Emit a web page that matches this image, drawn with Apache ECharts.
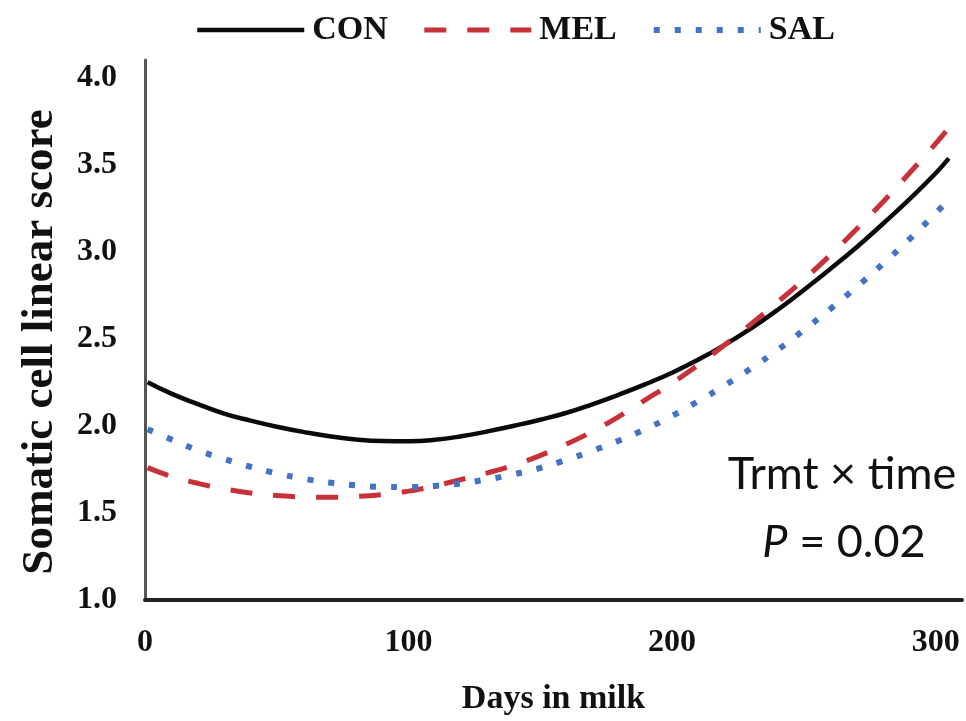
<!DOCTYPE html>
<html>
<head>
<meta charset="utf-8">
<style>
  html, body { margin: 0; padding: 0; background: #fff; }
  #chart { width: 966px; height: 721px; }
</style>
<script src="https://cdn.jsdelivr.net/npm/echarts@6/dist/echarts.min.js"></script>
</head>
<body>
<div id="chart"></div>
<script>
// Days in milk at which each fitted curve is sampled
const DAYS = [1, 10, 20, 30, 40, 50, 60, 70, 80, 90, 100, 110, 120, 130, 140, 150,
              160, 170, 180, 190, 200, 210, 220, 230, 240, 250, 260, 270, 280, 290, 300, 305];

// Somatic cell linear score per treatment
const CON = [2.25, 2.185, 2.125, 2.07, 2.03, 1.995, 1.965, 1.94, 1.922, 1.913, 1.912, 1.92, 1.94, 1.968, 2.0, 2.035,
             2.075, 2.125, 2.18, 2.24, 2.305, 2.38, 2.465, 2.56, 2.665, 2.78, 2.90, 3.025, 3.16, 3.30, 3.45, 3.535];
const MEL = [1.76, 1.71, 1.67, 1.638, 1.614, 1.6, 1.592, 1.59, 1.594, 1.605, 1.625, 1.655, 1.692, 1.73, 1.775, 1.83,
             1.895, 1.97, 2.055, 2.15, 2.245, 2.35, 2.465, 2.585, 2.71, 2.84, 2.98, 3.13, 3.285, 3.45, 3.62, 3.71];
const SAL = [1.98, 1.922, 1.86, 1.81, 1.765, 1.727, 1.697, 1.674, 1.658, 1.65, 1.649, 1.655, 1.67, 1.693, 1.722, 1.758,
             1.805, 1.858, 1.916, 1.982, 2.057, 2.142, 2.232, 2.33, 2.435, 2.55, 2.67, 2.797, 2.93, 3.07, 3.22, 3.30];

const SERIES_NAMES = ['CON', 'MEL', 'SAL'];
const X_TICKS = [0, 100, 200, 300];
const Y_TICKS = [1.0, 1.5, 2.0, 2.5, 3.0, 3.5, 4.0];
const ANNOTATION = ['Trmt × time', 'P', ' = 0.02'];

const pairs = vals => DAYS.map((d, i) => [d, vals[i]]);
const SERIF = '"Liberation Serif", "Times New Roman", serif';
const SANS = 'Lato, "Open Sans", sans-serif';

const chart = echarts.init(document.getElementById('chart'), null, { renderer: 'canvas' });

const styles = {
  CON: { color: '#0a0a0a', width: 4.5, type: 'solid' },
  MEL: { color: '#C8303A', width: 5, type: [22, 21] },
  SAL: { color: '#4472C4', width: 6, type: [6, 15] }
};

chart.setOption({
  animation: false,
  backgroundColor: '#ffffff',
  textStyle: { fontFamily: SERIF },
  legend: {
    data: SERIES_NAMES,
    left: 190,
    top: 7,
    itemWidth: 107,
    itemHeight: 14,
    itemGap: 34,
    itemStyle: { opacity: 0 },
    lineStyle: { width: 'inherit', type: 'inherit', cap: 'butt' },
    textStyle: {
      fontFamily: SERIF, fontWeight: 'bold', fontSize: 34, color: '#111',
      lineHeight: 36, padding: [0, 0, 0, 3]
    }
  },
  grid: { left: 145, right: 4, top: 60, bottom: 121, containLabel: false },
  xAxis: {
    type: 'value',
    min: 0,
    max: 310,
    interval: 100,
    name: 'Days in milk',
    nameLocation: 'middle',
    nameGap: 82,
    nameTextStyle: { fontFamily: SERIF, fontWeight: 'bold', fontSize: 34, color: '#111' },
    axisLine: { show: true, onZero: false, lineStyle: { color: '#222', width: 4 } },
    axisTick: { show: false },
    splitLine: { show: false },
    axisLabel: {
      margin: 27,
      fontFamily: SERIF, fontWeight: 'bold', fontSize: 32, color: '#111',
      formatter: v => (X_TICKS.includes(v) ? String(v) : '')
    }
  },
  yAxis: {
    type: 'value',
    min: 1,
    max: 4.1,
    interval: 0.5,
    name: 'Somatic cell linear score',
    nameLocation: 'middle',
    nameRotate: 90,
    nameGap: 82,
    nameTextStyle: {
      fontFamily: SERIF, fontWeight: 'bold', fontSize: 45, color: '#111',
      padding: [0, 24, 0, 0]
    },
    axisLine: { show: true, lineStyle: { color: '#555', width: 3 } },
    axisTick: { show: false },
    splitLine: { show: false },
    axisLabel: {
      margin: 28,
      fontFamily: SERIF, fontWeight: 'bold', fontSize: 32, color: '#111',
      formatter: v => {
        const t = Y_TICKS.find(y => Math.abs(y - v) < 1e-6);
        return t === undefined ? '' : t.toFixed(1);
      }
    }
  },
  graphic: [
    {
      type: 'text',
      x: 842, y: 474,
      style: {
        text: ANNOTATION[0],
        font: '45px ' + SANS,
        fill: '#111',
        align: 'center',
        verticalAlign: 'middle'
      },
      z: 10
    },
    {
      type: 'text',
      x: 844, y: 542,
      style: {
        text: '{i|' + ANNOTATION[1] + '}{n|' + ANNOTATION[2] + '}',
        align: 'center',
        verticalAlign: 'middle',
        rich: {
          i: { fontFamily: SANS, fontStyle: 'italic', fontSize: 45, fill: '#111' },
          n: { fontFamily: SANS, fontSize: 45, fill: '#111' }
        }
      },
      z: 10
    }
  ],
  series: [
    { name: 'CON', data: pairs(CON) },
    { name: 'MEL', data: pairs(MEL) },
    { name: 'SAL', data: pairs(SAL) }
  ].map(s => ({
    name: s.name,
    type: 'line',
    data: s.data,
    smooth: true,
    symbol: 'none',
    showSymbol: false,
    color: styles[s.name].color,
    lineStyle: {
      color: styles[s.name].color,
      width: styles[s.name].width,
      type: styles[s.name].type,
      cap: 'butt'
    }
  }))
});
</script>
</body>
</html>
